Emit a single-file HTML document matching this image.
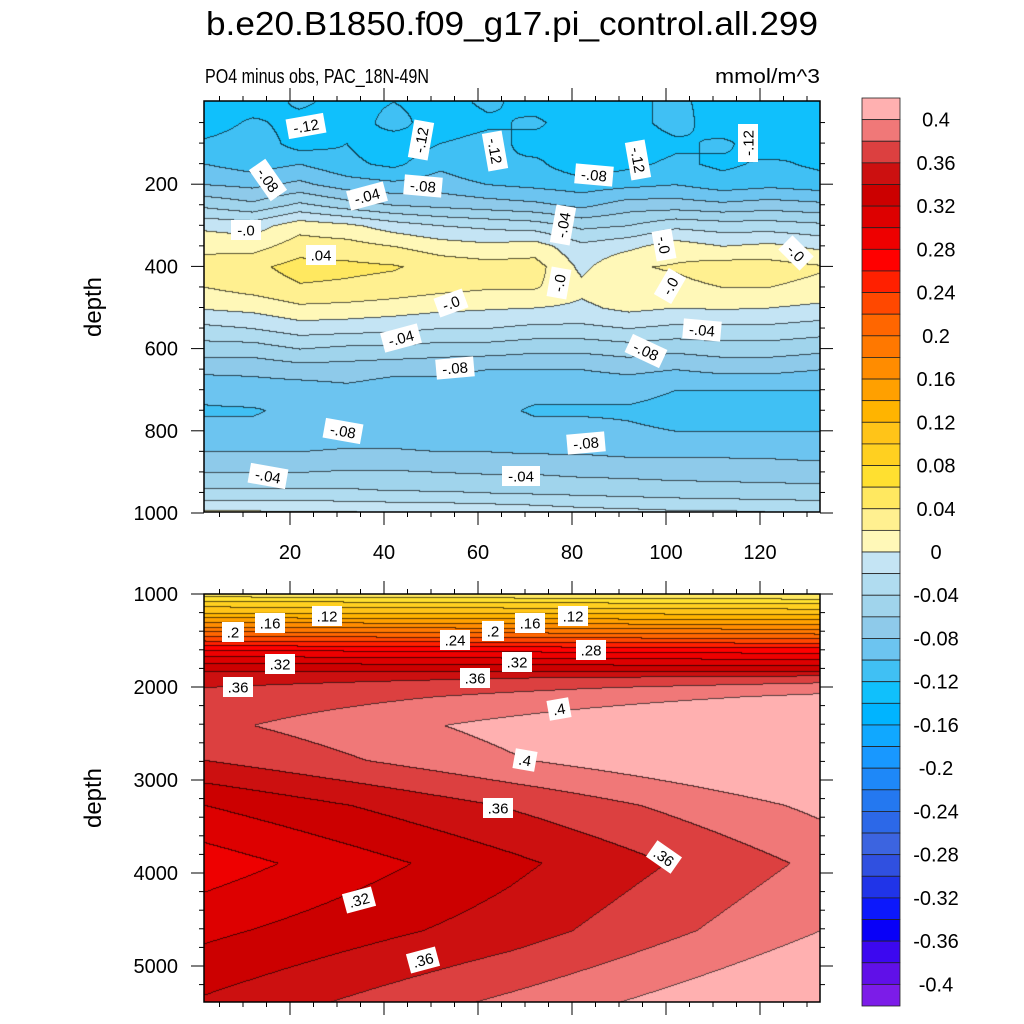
<!DOCTYPE html>
<html><head><meta charset="utf-8">
<style>
html,body{margin:0;padding:0;background:#fff;}
#wrap{position:relative;width:1024px;height:1024px;overflow:hidden;font-family:"Liberation Sans",sans-serif;}
canvas{position:absolute;}
svg{position:absolute;left:0;top:0;}
</style></head>
<body>
<div id="wrap">
<canvas id="cTop" width="616" height="411" style="left:204px;top:101px"></canvas>
<canvas id="cBot" width="616" height="408" style="left:204px;top:594px"></canvas>
<svg id="ov" width="1024" height="1024"></svg>
</div>
<script>
// ---- data ----
const topX = [2,12,22,32,42,52,62,72,82,92,102,112,122,133];
const topDepth = [0,50,100,150,200,250,300,350,400,450,500,550,600,650,700,750,800,850,900,950,1000];
const topVals = [
[-0.125,-0.135,-0.115,-0.13,-0.12,-0.13,-0.115,-0.13,-0.135,-0.125,-0.115,-0.13,-0.135,-0.125],
[-0.135,-0.115,-0.13,-0.135,-0.11,-0.135,-0.125,-0.115,-0.135,-0.13,-0.11,-0.135,-0.125,-0.135],
[-0.115,-0.105,-0.13,-0.12,-0.135,-0.12,-0.11,-0.13,-0.12,-0.135,-0.125,-0.115,-0.135,-0.12],
[-0.10,-0.11,-0.10,-0.115,-0.125,-0.105,-0.12,-0.115,-0.135,-0.125,-0.115,-0.125,-0.115,-0.125],
[-0.08,-0.085,-0.075,-0.09,-0.095,-0.09,-0.10,-0.105,-0.11,-0.105,-0.10,-0.11,-0.105,-0.11],
[-0.045,-0.055,-0.035,-0.05,-0.06,-0.065,-0.07,-0.075,-0.085,-0.07,-0.07,-0.075,-0.07,-0.075],
[-0.005,-0.01,0.012,0.005,-0.01,-0.02,-0.025,-0.03,-0.045,-0.04,-0.025,-0.03,-0.03,-0.035],
[0.015,0.012,0.03,0.028,0.02,0.01,0.005,0.01,-0.015,-0.005,0.01,0.0,0.005,-0.005],
[0.028,0.035,0.048,0.045,0.042,0.032,0.028,0.028,-0.005,0.018,0.022,0.03,0.028,0.022],
[0.02,0.028,0.038,0.036,0.032,0.026,0.022,0.022,0.005,0.015,0.015,0.02,0.02,0.015],
[0.002,0.006,0.016,0.014,0.01,0.005,0.002,0.0,-0.004,0.005,0.0,0.002,0.0,-0.005],
[-0.025,-0.02,-0.01,-0.012,-0.015,-0.02,-0.02,-0.025,-0.025,-0.02,-0.025,-0.025,-0.025,-0.03],
[-0.05,-0.05,-0.04,-0.045,-0.045,-0.05,-0.05,-0.055,-0.055,-0.05,-0.055,-0.05,-0.05,-0.055],
[-0.075,-0.075,-0.07,-0.07,-0.075,-0.075,-0.08,-0.08,-0.08,-0.075,-0.08,-0.075,-0.075,-0.08],
[-0.095,-0.09,-0.09,-0.085,-0.09,-0.09,-0.095,-0.095,-0.095,-0.095,-0.1,-0.1,-0.1,-0.1],
[-0.102,-0.102,-0.095,-0.092,-0.095,-0.095,-0.095,-0.102,-0.102,-0.102,-0.105,-0.105,-0.105,-0.105],
[-0.095,-0.095,-0.09,-0.09,-0.09,-0.092,-0.092,-0.095,-0.095,-0.098,-0.1,-0.1,-0.1,-0.1],
[-0.08,-0.08,-0.08,-0.078,-0.078,-0.08,-0.08,-0.082,-0.082,-0.085,-0.085,-0.085,-0.085,-0.088],
[-0.06,-0.06,-0.06,-0.058,-0.058,-0.06,-0.062,-0.062,-0.065,-0.066,-0.068,-0.068,-0.07,-0.07],
[-0.035,-0.035,-0.035,-0.035,-0.038,-0.038,-0.04,-0.042,-0.044,-0.046,-0.048,-0.05,-0.05,-0.052],
[0.005,0.005,0.004,0.003,0.002,0.0,-0.002,-0.005,-0.01,-0.012,-0.015,-0.015,-0.018,-0.02]
];
const botX = [2,67,133];
const botDepth = [1000,1100,1200,1300,1400,1500,1600,1700,1800,1900,2000,2100,2409,2785,3269,3892,4613,5387];
const botVals = [
[0.05,0.045,0.04],
[0.09,0.085,0.08],
[0.12,0.118,0.115],
[0.16,0.155,0.15],
[0.20,0.195,0.19],
[0.24,0.235,0.23],
[0.28,0.275,0.27],
[0.31,0.305,0.30],
[0.335,0.333,0.33],
[0.35,0.36,0.37],
[0.36,0.375,0.39],
[0.365,0.385,0.405],
[0.375,0.407,0.44],
[0.36,0.398,0.43],
[0.32,0.362,0.405],
[0.289,0.335,0.385],
[0.315,0.35,0.40],
[0.343,0.385,0.428]
];
const levelColors = ["#7c1ce8","#6010e8","#3c08f0","#0800f8","#0c18fc","#2034e8","#3050e0","#3c64e0","#2c68e8","#2478f0","#1e88f8","#1898ff","#10a8ff","#00b4ff","#10c0fc","#40c0f4","#6cc4f0","#8ecaea","#a0d4ec","#b0dcf0","#c4e4f4",
"#fff8b8","#fff090","#ffe860","#ffe030","#ffd020","#ffc418","#ffb400","#ffa000","#ff8c00","#ff7800","#ff6600","#ff4800","#ff2000","#ff0000","#ee0000","#dd0000","#cc0000","#cc1010","#dc4040","#f07878","#ffb0b0"];
const cbLabels = ["0.4","0.36","0.32","0.28","0.24","0.2","0.16","0.12","0.08","0.04","0","-0.04","-0.08","-0.12","-0.16","-0.2","-0.24","-0.28","-0.32","-0.36","-0.4"];
const topXTicks = ["20","40","60","80","100","120"];
const topYTicks = ["200","400","600","800","1000"];
const botYTicks = ["1000","2000","3000","4000","5000"];
const topLabels = [["-.12",306,126,-10],["-.12",421,140,-80],["-.12",495,151,80],["-.12",638,160,80],["-.12",748,143,-90],
["-.08",268,180,55],["-.08",423,186,5],["-.08",594,175,5],["-.04",367,196,-15],["-.04",563,225,-80],["-.0",246,230,0],
[".04",321,255,0],["-.0",664,245,80],["-.0",796,253,45],["-.0",559,283,-80],["-.0",670,286,-60],["-.0",451,303,-20],
["-.04",401,338,-15],["-.04",702,330,5],["-.08",646,351,25],["-.08",455,368,-5],["-.08",343,431,10],["-.08",586,443,-5],
["-.04",268,476,10],["-.04",521,476,0]];
const botLabels = [[".12",327,616,0],[".16",270,623,0],[".2",233,632,0],[".24",455,640,0],[".2",493,631,0],[".16",530,623,0],
[".12",573,616,0],[".28",591,650,0],[".32",280,664,0],[".32",517,662,0],[".36",238,687,0],[".36",475,678,0],
[".4",559,709,-10],[".4",525,760,10],[".36",498,808,0],[".36",664,857,35],[".32",359,900,-15],[".36",423,960,-15]];

// ---- axes ----
const xPx = x => 196 + 4.7*x;
const topY = d => 102 + d*0.411;
const botY = d => 594 + (d-1000)*0.093;
const cbY = v => 98 + (0.42 - v)/0.02*(908/42);

function seg(arr,v){let i=0;while(i<arr.length-2&&v>arr[i+1])i++;let t=(v-arr[i])/(arr[i+1]-arr[i]);t=Math.max(0,Math.min(1,t));return [i,t];}
function levelIdx(v){let k=0;for(let b=0;b<41;b++){if(v>=-0.40+b*0.02-1e-9)k=b+1;}return k;}
function hex(c){return [parseInt(c.substr(1,2),16),parseInt(c.substr(3,2),16),parseInt(c.substr(5,2),16)];}
const rgb = levelColors.map(hex);

function drawField(id,X,D,V,yToDepth,x0,y0){
  const cv=document.getElementById(id),ctx=cv.getContext('2d');
  const W=cv.width,H=cv.height,img=ctx.createImageData(W,H);
  const idx=new Int16Array(W*H);
  for(let py=0;py<H;py++){
    const d=yToDepth(y0+py+0.5);const [j,ty]=seg(D,d);
    for(let px=0;px<W;px++){
      const x=(x0+px+0.5-196)/4.7;const [i,tx]=seg(X,x);
      const a=V[j][i]*(1-tx)+V[j][i+1]*tx,b=V[j+1][i]*(1-tx)+V[j+1][i+1]*tx;
      idx[py*W+px]=levelIdx(a*(1-ty)+b*ty);
    }
  }
  for(let p=0;p<W*H;p++){
    const px=p%W,py=(p-px)/W;let c=rgb[idx[p]];
    let edge=(px>0&&idx[p-1]!==idx[p])||(py>0&&idx[p-W]!==idx[p]);
    const o=p*4;
    if(edge){img.data[o]=c[0]*0.35;img.data[o+1]=c[1]*0.35;img.data[o+2]=c[2]*0.35;}
    else{img.data[o]=c[0];img.data[o+1]=c[1];img.data[o+2]=c[2];}
    img.data[o+3]=255;
  }
  ctx.putImageData(img,0,0);
}
drawField('cTop',topX,topDepth,topVals,y=>(y-102)/0.411,204,101);
drawField('cBot',botX,botDepth,botVals,y=>1000+(y-594)/0.093,204,594);

// ---- overlay ----
const NS="http://www.w3.org/2000/svg",ov=document.getElementById('ov');
function el(tag,attrs,parent){const e=document.createElementNS(NS,tag);for(const k in attrs)e.setAttribute(k,attrs[k]);(parent||ov).appendChild(e);return e;}
function txt(s,x,y,size,anchor,extra){const t=el('text',Object.assign({x:x,y:y,'font-size':size,'text-anchor':anchor||'start','font-family':'Liberation Sans, sans-serif',fill:'#000'},extra||{}));t.textContent=s;return t;}

let t;
t=txt("b.e20.B1850.f09_g17.pi_control.all.299",512,35,33,'middle',{textLength:612,lengthAdjust:'spacingAndGlyphs'});

t=txt("PO4 minus obs, PAC_18N-49N",205,83,20,'start',{textLength:224,lengthAdjust:'spacingAndGlyphs'});

t=txt("mmol/m^3",820,83,20,'end',{textLength:105,lengthAdjust:'spacingAndGlyphs'});


function line(x1,y1,x2,y2,w){return el('line',{x1:x1,y1:y1,x2:x2,y2:y2,stroke:'#000','stroke-width':w||1});}
const tf=el('rect',{x:204,y:101,width:616,height:411,fill:'none',stroke:'#000','stroke-width':1.5});

const bf=el('rect',{x:204,y:594,width:616,height:408,fill:'none',stroke:'#000','stroke-width':1.5});

for(let x=5;x<=130;x+=5){const p=xPx(x);if(p<204||p>820)continue;const maj=x%20===0;const L=maj?13:5;
  line(p,512,p,512+L);line(p,101,p,101-L);line(p,594,p,594-L);line(p,1002,p,1002+L);}
for(let d=50;d<=1000;d+=50){const y=topY(d);const L=d%200===0?13:5;line(204,y,204-L,y);line(820,y,820+L,y);}
for(let d=1200;d<=5300;d+=200){const y=botY(d);const L=d%1000===0?13:5;line(204,y,204-L,y);line(820,y,820+L,y);}
line(204,594,191,594);line(820,594,833,594);
topXTicks.forEach((s,i)=>{const tt=txt(s,xPx(+s),559,20,'middle');
});
topYTicks.forEach(s=>{const tt=txt(s,178,topY(+s)+7,20,'end');
});
botYTicks.forEach(s=>{const tt=txt(s,178,botY(+s)+7,20,'end');
});
t=txt("depth",101,307,24,'middle',{transform:'rotate(-90 101 307)'});

t=txt("depth",101,798,24,'middle',{transform:'rotate(-90 101 798)'});


function clabels(list,nm){list.forEach(l=>{const g=el('g',{transform:`translate(${l[1]},${l[2]}) rotate(${l[3]})`});
  
  const w=l[0].length*8+6;el('rect',{x:-w/2,y:-10,width:w,height:20,fill:'#fff'},g);
  const tt=el('text',{x:0,y:5.5,'font-size':15,'text-anchor':'middle','font-family':'Liberation Sans, sans-serif'},g);tt.textContent=l[0];});}
clabels(topLabels,'top-contour-label');
clabels(botLabels,'bottom-contour-label');

for(let i=0;i<42;i++){const v0=0.40-i*0.02+0.02;const y=cbY(v0);
  const r=el('rect',{x:862,y:y,width:38,height:908/42,fill:levelColors[41-i],stroke:'#222','stroke-width':0.8});
  }
cbLabels.forEach(s=>{const y=cbY(parseFloat(s));const tt=txt(s,936,y+7,20,'middle');
  });
</script>
</body></html>
